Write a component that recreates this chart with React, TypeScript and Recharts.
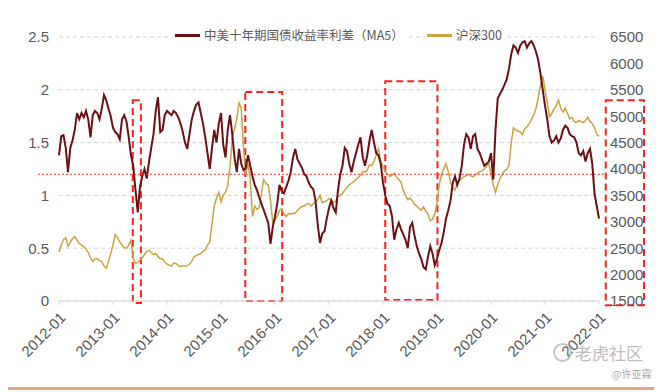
import { CartesianGrid, Line, LineChart, ReferenceArea, ReferenceLine, XAxis, YAxis } from 'recharts'

const NARROW = "'Liberation Sans Narrow', 'Arial Narrow', 'Liberation Sans', Arial, sans-serif"
const CJK = "'Noto Sans CJK SC', 'Liberation Sans', sans-serif"
const GREY = '#595959'
const SPREAD_COLOR = '#6b1116'
const CSI_COLOR = '#c9a441'

// half-month steps, 2012-01 .. 2022-01
const spread = [
  1.38, 1.56, 1.57, 1.45, 1.22, 1.45, 1.52, 1.62, 1.78, 1.72,
  1.78, 1.74, 1.8, 1.72, 1.55, 1.76, 1.8, 1.78, 1.72, 1.82,
  1.95, 1.9, 1.82, 1.75, 1.64, 1.6, 1.58, 1.53, 1.72, 1.76,
  1.7, 1.55, 1.38, 1.28, 1.05, 0.84, 1.08, 1.18, 1.25, 1.16,
  1.32, 1.45, 1.58, 1.8, 1.93, 1.6, 1.62, 1.76, 1.8, 1.78,
  1.76, 1.8, 1.78, 1.74, 1.68, 1.6, 1.5, 1.44, 1.58, 1.72,
  1.8, 1.86, 1.88, 1.78, 1.68, 1.55, 1.4, 1.25, 1.45, 1.62,
  1.5, 1.68, 1.78, 1.48, 1.36, 1.62, 1.76, 1.58, 1.36, 1.22,
  1.44, 1.3, 1.24, 1.26, 1.38, 1.28, 1.18, 1.1, 1.05, 0.98,
  0.92, 0.86, 0.8, 0.74, 0.54, 0.7, 0.8, 0.92, 1.1, 1.04,
  1.02, 1.08, 1.14, 1.22, 1.36, 1.44, 1.34, 1.3, 1.26, 1.2,
  1.18, 1.12, 1.08, 1.06, 0.95, 0.72, 0.55, 0.64, 0.66, 0.78,
  0.88, 0.95, 0.88, 0.84, 1.05, 1.2, 1.28, 1.45, 1.42, 1.3,
  1.22, 1.32, 1.4, 1.48, 1.55, 1.36, 1.28, 1.38, 1.52, 1.62,
  1.5, 1.4, 1.38, 1.3, 1.12, 1.0, 0.92, 0.9, 0.8, 0.58,
  0.68, 0.74, 0.68, 0.63, 0.58, 0.5, 0.7, 0.74, 0.62, 0.52,
  0.45, 0.4, 0.32, 0.3, 0.42, 0.52, 0.45, 0.34, 0.4, 0.48,
  0.55, 0.65, 0.78, 0.86, 0.95, 1.12, 1.18, 1.1, 1.16, 1.28,
  1.48, 1.58, 1.55, 1.44, 1.56, 1.58, 1.44, 1.4, 1.34, 1.28,
  1.3, 1.32, 1.4, 1.15, 1.62, 1.92, 1.96, 2.0, 2.05, 2.1,
  2.2, 2.34, 2.42, 2.4, 2.35, 2.42, 2.45, 2.46, 2.4, 2.44,
  2.46, 2.42, 2.36, 2.28, 2.15, 2.0, 1.85, 1.72, 1.56, 1.5,
  1.52, 1.56, 1.5, 1.54, 1.62, 1.66, 1.64, 1.58, 1.56, 1.55,
  1.5, 1.4, 1.38, 1.42, 1.32, 1.4, 1.44, 1.3, 1.02, 0.9,
  0.78,
]

const csi300 = [
  2430, 2560, 2660, 2700, 2540, 2610, 2680, 2720, 2650, 2590,
  2560, 2530, 2480, 2420, 2320, 2250, 2300, 2300, 2270, 2240,
  2160, 2120, 2250, 2400, 2560, 2760, 2700, 2620, 2560, 2510,
  2500, 2560, 2650, 2300, 2210, 2230, 2280, 2320, 2380, 2440,
  2460, 2420, 2380, 2400, 2340, 2300, 2300, 2240, 2200, 2180,
  2160, 2220, 2210, 2170, 2150, 2170, 2160, 2170, 2200, 2250,
  2340, 2360, 2380, 2400, 2440, 2470, 2560, 2620, 2950, 3300,
  3450, 3560, 3380, 3500, 3560, 3680, 4050, 4600, 4750, 4950,
  5250, 5150, 4400, 3900, 4100, 3800, 3100, 3300, 3230, 3270,
  3550, 3800, 3720, 3700, 3400, 2980, 3050, 3100, 3220, 3250,
  3150, 3100, 3160, 3140, 3160, 3160, 3220, 3260, 3290, 3300,
  3330, 3350, 3300, 3340, 3380, 3420, 3500, 3360, 3380, 3400,
  3440, 3420, 3360, 3400, 3480, 3500, 3540, 3600, 3650, 3700,
  3730, 3760, 3800, 3840, 3880, 3960, 3940, 3980, 4080, 4060,
  4150, 4260, 4380, 4150, 4050, 3950, 3900, 3860, 3880, 3920,
  3850, 3800, 3750, 3600, 3500, 3420, 3450, 3400, 3330, 3300,
  3250, 3220, 3280, 3200, 3150, 3020, 3050, 3150, 3350, 3700,
  3900, 4000, 4100, 3950, 3750, 3650, 3600, 3720, 3780, 3820,
  3850, 3880, 3900, 3870, 3850, 3900, 3920, 3950, 3960, 4000,
  4050, 4100, 3900, 3700, 3560, 3700, 3820, 3900, 3960, 4000,
  4060, 4500, 4780, 4740, 4720, 4700, 4650, 4760, 4800, 4860,
  4940, 5020, 5150, 5350, 5600, 5760, 5500, 5250, 4990, 5050,
  5140, 5200, 5300, 5150, 5080, 5150, 5050, 4950, 4980, 4900,
  4880, 4920, 4900, 4880, 4920, 4980, 4900, 4860, 4780, 4660,
  4620,
]

const yearLabels = [
  '2012-01', '2013-01', '2014-01', '2015-01', '2016-01', '2017-01',
  '2018-01', '2019-01', '2020-01', '2021-01', '2022-01',
]
const leftTicks = [0, 0.5, 1, 1.5, 2, 2.5]
const rightTicks = [1500, 2000, 2500, 3000, 3500, 4000, 4500, 5000, 5500, 6000, 6500]

// highlighted periods (months since 2012-01, spread-axis values)
const boxes = [
  { x1: 16.4, x2: 18.2, y1: -0.02, y2: 1.9 },
  { x1: 41.4, x2: 49.6, y1: 0, y2: 1.98 },
  { x1: 72.5, x2: 84.1, y1: 0.01, y2: 2.08 },
  { x1: 121.5, x2: 130, y1: -0.04, y2: 1.9 },
]

const data = spread.map((v, i) => ({ t: i / 2, spread: v, csi: csi300[i] }))

function YearTick({ x, y, payload }: any) {
  const label = yearLabels[Math.round(payload.value / 12)]
  const ax = x + 4
  const ay = y + 8
  return (
    <text
      x={ax}
      y={ay}
      dy="0.35em"
      textAnchor="end"
      transform={`rotate(-45, ${ax}, ${ay})`}
      fill={GREY}
      fontSize={15}
      fontFamily={NARROW}
    >
      {label}
    </text>
  )
}

function LegendItem({ color, label, left }: { color: string; label: string; left: number }) {
  return (
    <div
      style={{
        position: 'absolute',
        left,
        top: 27,
        display: 'flex',
        alignItems: 'center',
        gap: 4,
        background: '#fff',
        padding: '0 2px',
        fontFamily: CJK,
        fontSize: 12.5,
        color: GREY,
        lineHeight: '16px',
      }}
    >
      <span style={{ width: 25, height: 3, background: color, display: 'inline-block' }} />
      <span>{label}</span>
    </div>
  )
}

export default function App() {
  return (
    <div style={{ position: 'absolute', left: 0, top: 0, width: 661, height: 392, background: '#fff', overflow: 'hidden' }}>
      <LineChart width={661} height={392} data={data} margin={{ top: 37, right: 0, bottom: 0, left: 0 }}>
        <CartesianGrid yAxisId="left" vertical={false} stroke="#d6d6d6" strokeDasharray="4 3" />
        <XAxis
          dataKey="t"
          type="number"
          domain={[0, 120]}
          ticks={[0, 12, 24, 36, 48, 60, 72, 84, 96, 108, 120]}
          height={91}
          stroke="#d6d6d6"
          tickSize={4}
          tick={<YearTick />}
          interval={0}
        />
        <YAxis
          yAxisId="left"
          domain={[0, 2.5]}
          ticks={leftTicks}
          width={59}
          axisLine={false}
          tickLine={false}
          tickMargin={4}
          tick={{ fill: GREY, fontSize: 15, fontFamily: NARROW }}
        />
        <YAxis
          yAxisId="right"
          orientation="right"
          domain={[1500, 6500]}
          ticks={rightTicks}
          width={62}
          axisLine={false}
          tickLine={false}
          tickMargin={5}
          tick={{ fill: GREY, fontSize: 15, fontFamily: NARROW }}
        />
        <Line
          yAxisId="right"
          dataKey="csi"
          stroke={CSI_COLOR}
          strokeWidth={1.5}
          dot={false}
          isAnimationActive={false}
        />
        <Line
          yAxisId="left"
          dataKey="spread"
          stroke={SPREAD_COLOR}
          strokeWidth={2}
          dot={false}
          isAnimationActive={false}
        />
        <ReferenceLine
          yAxisId="left"
          segment={[{ x: -4.7, y: 1.2 }, { x: 121.3, y: 1.2 }]}
          stroke="#ff2a2a"
          strokeDasharray="2 2"
          ifOverflow="visible"
        />
        {boxes.map((b, i) => (
          <ReferenceArea
            key={i}
            yAxisId="left"
            x1={b.x1}
            x2={b.x2}
            y1={b.y1}
            y2={b.y2}
            fill="none"
            fillOpacity={0}
            stroke="#ff1f1f"
            strokeWidth={2}
            strokeDasharray="7 4"
            ifOverflow="visible"
          />
        ))}
      </LineChart>
      <LegendItem color={SPREAD_COLOR} label="中美十年期国债收益率利差（MA5）" left={173} />
      <LegendItem color={CSI_COLOR} label="沪深300" left={425} />
      <div
        style={{
          position: 'absolute',
          left: 553,
          top: 340,
          display: 'flex',
          alignItems: 'center',
          gap: 3,
          fontFamily: CJK,
          fontSize: 17,
          color: '#bdbdbd',
        }}
      >
        <span
          style={{
            width: 15,
            height: 15,
            borderRadius: '50%',
            border: '2px solid #c4c4c4',
            display: 'inline-block',
          }}
        />
        <span>老虎社区</span>
      </div>
      <div style={{ position: 'absolute', left: 612, top: 366, fontFamily: CJK, fontSize: 10, color: '#aaa' }}>
        @许亚霖
      </div>
      <div style={{ position: 'absolute', left: 8, top: 387, width: 646, height: 3, background: '#e3a48c' }} />
    </div>
  )
}
